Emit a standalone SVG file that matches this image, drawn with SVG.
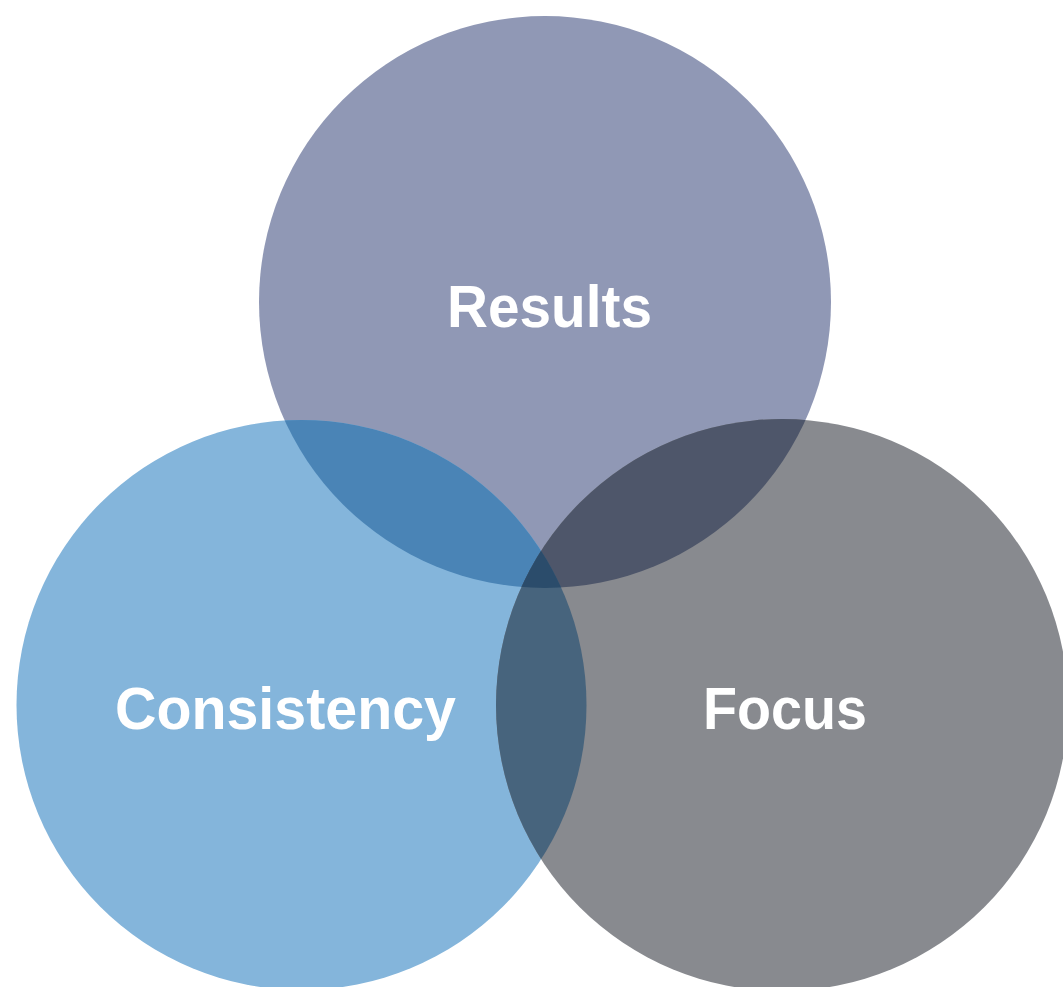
<svg xmlns="http://www.w3.org/2000/svg" width="1063" height="987" viewBox="0 0 1063 987">
  <style>
    .label { font-family: "Liberation Sans", Arial, sans-serif; font-weight: bold; font-size: 60px; fill: #ffffff; text-anchor: middle; }
  </style>
  <defs>
    <circle id="c-results" cx="545" cy="302" r="286"/>
    <circle id="c-consistency" cx="301.5" cy="705" r="285"/>
    <circle id="c-focus" cx="782" cy="705" r="286"/>
    <clipPath id="clip-results"><use href="#c-results"/></clipPath>
    <clipPath id="clip-consistency"><use href="#c-consistency"/></clipPath>
    <clipPath id="clip-focus"><use href="#c-focus"/></clipPath>
  </defs>
  <rect width="1063" height="987" fill="#ffffff"/>

  <!-- base circles -->
  <g id="results-circle"><use href="#c-results" fill="#9098b5"/></g>
  <g id="consistency-circle"><use href="#c-consistency" fill="#84b5db"/></g>
  <g id="focus-circle"><use href="#c-focus" fill="#888a8f"/></g>

  <!-- overlaps -->
  <g id="overlaps">
    <g clip-path="url(#clip-results)"><use href="#c-consistency" fill="#4a84b6"/></g>
    <g clip-path="url(#clip-results)"><use href="#c-focus" fill="#4e566a"/></g>
    <g clip-path="url(#clip-consistency)"><use href="#c-focus" fill="#47647d"/></g>
    <g clip-path="url(#clip-results)"><g clip-path="url(#clip-consistency)"><use href="#c-focus" fill="#2b4c6b"/></g></g>
  </g>

  <!-- labels -->
  <g id="results"><text class="label" x="549.5" y="327" textLength="205" lengthAdjust="spacingAndGlyphs">Results</text></g>
  <g id="consistency"><text class="label" x="285.5" y="729" textLength="341" lengthAdjust="spacingAndGlyphs">Consistency</text></g>
  <g id="focus"><text class="label" x="785" y="729" textLength="164" lengthAdjust="spacingAndGlyphs">Focus</text></g>
</svg>
